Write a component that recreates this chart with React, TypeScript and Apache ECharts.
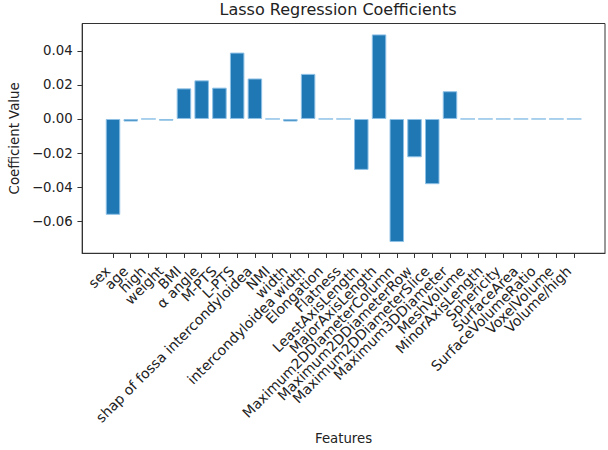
import React, { useEffect, useRef } from "react";
import * as echarts from "echarts";

const features: string[] = [
  "sex", "age", "high", "weight", "BMI", "α angle", "M-PTS", "L-PTS",
  "shap of fossa intercondyloidea", "NMI", "width", "intercondyloidea width",
  "Elongation", "Flatness", "LeastAxisLength", "MajorAxisLength",
  "Maximum2DDiameterColumn", "Maximum2DDiameterRow", "Maximum2DDiameterSlice",
  "Maximum3DDiameter", "MeshVolume", "MinorAxisLength", "Sphericity",
  "SurfaceArea", "SurfaceVolumeRatio", "VoxelVolume", "Volume/high",
];

const coefficients: number[] = [
  -0.0563, -0.0015, 0, -0.001, 0.018, 0.0227, 0.0184, 0.039,
  0.0238, 0, -0.0015, 0.0265,
  0, 0, -0.0299, 0.0497,
  -0.0723, -0.0225, -0.0383,
  0.0163, 0, 0, 0,
  0, 0, 0, 0,
];

const yTicks: number[] = [-0.06, -0.04, -0.02, 0, 0.02, 0.04];

const FONT = "DejaVu Sans";
const TEXT = "#222";
const X_MIN = -1.74;
const X_MAX = 27.74;

export default function App() {
  const ref = useRef<HTMLDivElement>(null);
  useEffect(() => {
    if (!ref.current) return;
    document.body.style.margin = "0";
    const chart = echarts.init(ref.current, undefined, { renderer: "svg" });
    const xIdx = features.map((_, i) => i);
    chart.setOption({
      animation: false,
      backgroundColor: "#fff",
      title: {
        text: "Lasso Regression Coefficients",
        left: 338,
        top: 1,
        padding: 0,
        textAlign: "center",
        textStyle: { fontFamily: FONT, fontSize: 16, fontWeight: "normal", color: TEXT },
      },
      grid: {
        left: 72,
        right: 3,
        top: 23.5,
        bottom: 187.7,
        show: true,
        borderColor: "#333",
        borderWidth: 1,
        backgroundColor: "transparent",
      },
      xAxis: {
        type: "value",
        min: X_MIN,
        max: X_MAX,
        name: "Features",
        nameLocation: "middle",
        nameGap: 174,
        nameTextStyle: { fontFamily: FONT, fontSize: 13.3, color: TEXT },
        splitLine: { show: false },
        axisLine: { show: true, onZero: false, lineStyle: { color: "#333", width: 1 } },
        axisTick: { show: true, customValues: xIdx, length: 4.7, lineStyle: { color: "#333" } },
        axisLabel: {
          customValues: [X_MIN, ...xIdx, X_MAX],
          hideOverlap: false,
          rotate: 45,
          margin: 10,
          padding: [0, 7.5, 0, 0],
          fontFamily: FONT,
          fontSize: 14,
          color: TEXT,
          formatter: (v: number) => (Number.isInteger(v) ? features[v] ?? "" : ""),
        },
      },
      yAxis: {
        type: "value",
        min: -0.0789,
        max: 0.0561,
        name: "Coefficient Value",
        nameLocation: "middle",
        nameGap: 50,
        nameTextStyle: { fontFamily: FONT, fontSize: 13.3, color: TEXT },
        splitLine: { show: false },
        axisLine: { show: true, onZero: false, lineStyle: { color: "#333", width: 1 } },
        axisTick: { show: true, customValues: yTicks, length: 4.7, lineStyle: { color: "#333" } },
        axisLabel: {
          customValues: yTicks,
          margin: 9.5,
          fontFamily: FONT,
          fontSize: 13.3,
          color: TEXT,
          formatter: (v: number) => v.toFixed(2).replace("-", "\u2212"),
        },
      },
      series: [
        {
          type: "bar",
          data: coefficients.map((v, i) => [i, v]),
          barWidth: 14.5,
          itemStyle: { color: "#1f77b4", borderColor: "#8ec1e6", borderWidth: 1 },
        },
      ],
    });
    return () => chart.dispose();
  }, []);
  return <div ref={ref} style={{ width: 608, height: 450 }} />;
}
